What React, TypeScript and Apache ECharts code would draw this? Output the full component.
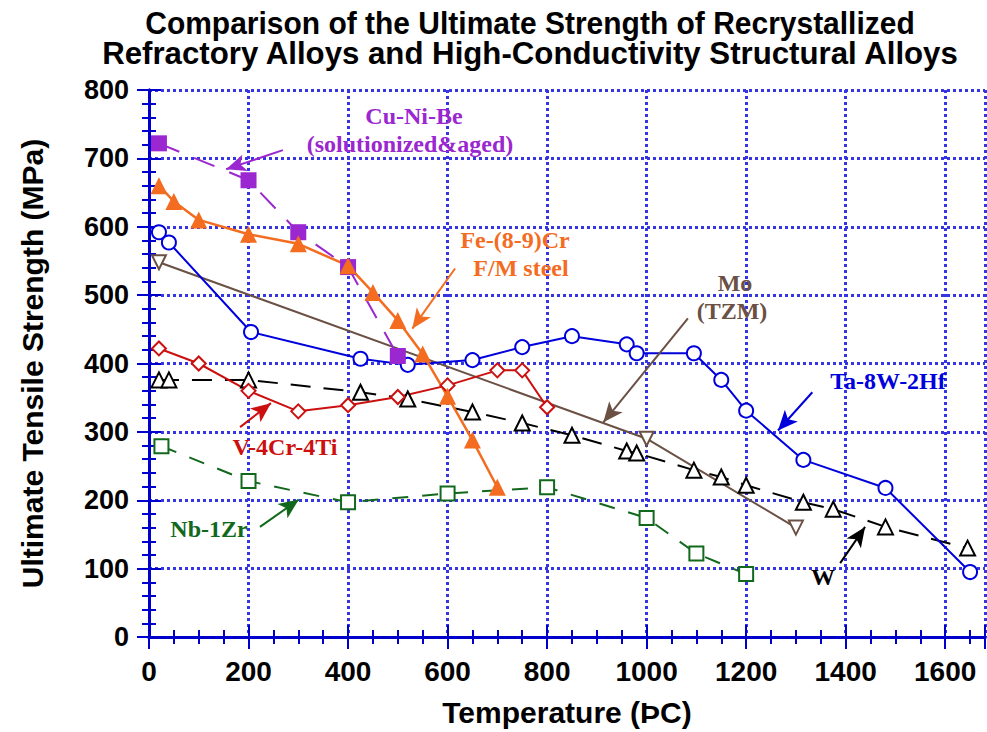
import React, { useEffect, useRef } from "react";
import * as echarts from "echarts";

const cuNiBe: number[][] = [[20, 722], [200, 668], [300, 592], [400, 541], [500, 411]];
const feCr: number[][] = [[20, 660], [50, 637], [100, 610], [200, 589], [300, 575], [400, 543], [450, 504], [500, 463], [550, 414], [600, 352], [650, 288], [700, 219]];
const ta8w: number[][] = [[20, 592], [40, 577], [205, 446], [425, 407], [520, 398], [650, 405], [750, 424], [850, 440], [960, 428], [980, 415], [1095, 415], [1150, 376], [1200, 331], [1315, 259], [1480, 218], [1650, 95]];
const moTzm: number[][] = [[20, 548], [1000, 290], [1300, 160]];
const v4cr: number[][] = [[20, 422], [100, 400], [200, 360], [300, 330], [400, 339], [500, 351], [600, 368], [700, 390], [750, 390], [800, 336]];
const wData: number[][] = [[20, 376], [40, 376], [200, 376], [425, 358], [520, 348], [650, 329], [750, 313], [850, 295], [960, 272], [980, 269], [1095, 244], [1150, 234], [1200, 222], [1315, 197], [1375, 187], [1480, 161], [1645, 130]];
const nb1zr: number[][] = [[25, 279], [200, 228], [400, 197], [600, 210], [800, 219], [1000, 174], [1100, 122], [1200, 92]];

// arrows: [startX, startY, endX, endY] in data units
const arrowCu = [269, 712, 155, 684];
const arrowFe = [615, 539, 529, 451];
const arrowMo = [1083, 466, 913, 314];
const arrowTa = [1333, 358, 1264, 302];
const arrowW = [1389, 108, 1439, 161];
const arrowV = [183, 307, 245, 342];
const arrowNb = [223, 161, 301, 201];

const titleLines = ["Comparison of the Ultimate Strength of Recrystallized", "Refractory Alloys and High-Conductivity Structural Alloys"];

const C_PURPLE = "#9a27cf";
const C_ORANGE = "#f36c1f";
const C_BROWN = "#6b5044";
const C_BLUE = "#0000dd";
const C_RED = "#cc1010";
const C_GREEN = "#12681c";
const C_BLACK = "#000000";
const AXIS_BLUE = "#0000cc";
const GRID_BLUE = "#3535e4";

function arrowLine(a: number[], color: string) {
  return {
    silent: true,
    symbol: ["none", "arrow"],
    symbolSize: [13, 20],
    label: { show: false },
    lineStyle: { color, width: 2, type: "solid" },
    data: [[{ coord: [a[0], a[1]] }, { coord: [a[2], a[3]] }]],
  };
}

export default function App() {
  const ref = useRef<HTMLDivElement>(null);
  useEffect(() => {
    if (!ref.current) return;
    const chart = echarts.init(ref.current, undefined, { renderer: "svg" });
    const serif = "'Liberation Serif', 'Times New Roman', serif";
    const sans = "'Liberation Sans', Arial, sans-serif";
    const lbl = (text: string, x: number, y: number, color: string) => ({
      type: "text",
      x,
      y,
      z: 100,
      style: {
        text, fill: color, fontFamily: serif, fontWeight: "bold", fontSize: 24,
        textAlign: "center", textVerticalAlign: "middle",
      },
    });
    const openItem = (color: string) => ({ color: "#ffffff", borderColor: color, borderWidth: 2 });
    const plain = (v: number) => String(v);
    const gridLine = { show: true, lineStyle: { color: GRID_BLUE, width: 3, type: "dotted" } };
    const option: any = {
      animation: false,
      backgroundColor: "#ffffff",
      grid: { left: 149, right: 2, top: 90, bottom: 79 },
      xAxis: [
        {
          type: "value", min: 0, max: 1680, interval: 200,
          name: "Temperature (ÞC)", nameLocation: "middle", nameGap: 60,
          nameTextStyle: { fontFamily: sans, fontWeight: "bold", fontSize: 30, color: "#000" },
          axisLine: { show: true, lineStyle: { color: AXIS_BLUE, width: 3 } },
          axisTick: { show: true, inside: true, length: 12, lineStyle: { color: AXIS_BLUE, width: 2 } },
          minorTick: { show: true, splitNumber: 4, length: 7, lineStyle: { color: AXIS_BLUE, width: 2 } },
          axisLabel: { fontFamily: sans, fontWeight: "bold", fontSize: 28, color: "#000", margin: 20, showMaxLabel: false, formatter: plain },
          splitLine: gridLine,
        },
        {
          type: "value", min: 0, max: 1680, interval: 200, position: "top",
          axisLine: { show: true, lineStyle: { color: AXIS_BLUE, width: 3 } },
          axisTick: { show: true, inside: true, length: 12, lineStyle: { color: AXIS_BLUE, width: 2 } },
          minorTick: { show: true, splitNumber: 4, length: 7, lineStyle: { color: AXIS_BLUE, width: 2 } },
          axisLabel: { show: false },
          splitLine: { show: false },
        },
      ],
      yAxis: [
        {
          type: "value", min: 0, max: 800, interval: 100,
          name: "Ultimate Tensile Strength (MPa)", nameLocation: "middle", nameGap: 102,
          nameTextStyle: { fontFamily: sans, fontWeight: "bold", fontSize: 30, color: "#000" },
          axisLine: { show: true, lineStyle: { color: AXIS_BLUE, width: 3 } },
          axisTick: { show: true, inside: true, length: 12, lineStyle: { color: AXIS_BLUE, width: 2 } },
          minorTick: { show: true, splitNumber: 5, length: 7, lineStyle: { color: AXIS_BLUE, width: 2 } },
          axisLabel: { fontFamily: sans, fontWeight: "bold", fontSize: 27, color: "#000", margin: 20, formatter: plain },
          splitLine: gridLine,
        },
        {
          type: "value", min: 0, max: 800, interval: 100, position: "right",
          axisLine: { show: true, lineStyle: { color: AXIS_BLUE, width: 3 } },
          axisTick: { show: true, inside: true, length: 12, lineStyle: { color: AXIS_BLUE, width: 2 } },
          minorTick: { show: true, splitNumber: 5, length: 7, lineStyle: { color: AXIS_BLUE, width: 2 } },
          axisLabel: { show: false },
          splitLine: { show: false },
        },
      ],
      series: [
        {
          name: "Mo (TZM)", type: "line", data: moTzm, symbol: "triangle", symbolRotate: 180, symbolSize: 14,
          lineStyle: { color: C_BROWN, width: 2 }, itemStyle: openItem(C_BROWN),
          markLine: arrowLine(arrowMo, C_BROWN),
        },
        {
          name: "Nb-1Zr", type: "line", data: nb1zr, symbol: "rect", symbolSize: 14,
          lineStyle: { color: C_GREEN, width: 2, type: [16, 14] }, itemStyle: openItem(C_GREEN),
          markLine: arrowLine(arrowNb, C_GREEN),
        },
        {
          name: "W", type: "line", data: wData, symbol: "triangle", symbolSize: 15,
          lineStyle: { color: C_BLACK, width: 2, type: [20, 13] }, itemStyle: openItem(C_BLACK),
          markLine: arrowLine(arrowW, C_BLACK),
        },
        {
          name: "V-4Cr-4Ti", type: "line", data: v4cr, symbol: "diamond", symbolSize: 14,
          lineStyle: { color: C_RED, width: 2 }, itemStyle: openItem(C_RED),
          markLine: arrowLine(arrowV, C_RED),
        },
        {
          name: "Ta-8W-2Hf", type: "line", data: ta8w, symbol: "circle", symbolSize: 14,
          lineStyle: { color: C_BLUE, width: 2 }, itemStyle: openItem(C_BLUE),
          markLine: arrowLine(arrowTa, C_BLUE),
        },
        {
          name: "Cu-Ni-Be", type: "line", data: cuNiBe, symbol: "rect", symbolSize: 16,
          lineStyle: { color: C_PURPLE, width: 2, type: [22, 16] }, itemStyle: { color: C_PURPLE },
          markLine: arrowLine(arrowCu, C_PURPLE),
        },
        {
          name: "Fe-(8-9)Cr", type: "line", data: feCr, symbol: "triangle", symbolSize: 17,
          lineStyle: { color: C_ORANGE, width: 2.5 }, itemStyle: { color: C_ORANGE },
          markLine: arrowLine(arrowFe, C_ORANGE),
        },
      ],
      graphic: [
        {
          type: "text", x: 530, y: 23, scaleX: 0.937,
          style: { text: titleLines[0], fill: "#000", font: `bold 32px ${sans}`, textAlign: "center", textVerticalAlign: "middle" },
        },
        {
          type: "text", x: 530, y: 53, scaleX: 0.975,
          style: { text: titleLines[1], fill: "#000", font: `bold 32px ${sans}`, textAlign: "center", textVerticalAlign: "middle" },
        },
        lbl("Cu-Ni-Be", 414, 116, C_PURPLE),
        lbl("(solutionized&aged)", 410, 144, C_PURPLE),
        lbl("Fe-(8-9)Cr", 515, 240, C_ORANGE),
        lbl("F/M steel", 521, 268, C_ORANGE),
        lbl("Mo", 735, 283, C_BROWN),
        lbl("(TZM)", 732, 311, C_BROWN),
        lbl("Ta-8W-2Hf", 888, 381, C_BLUE),
        lbl("V-4Cr-4Ti", 285, 447, C_RED),
        lbl("Nb-1Zr", 209, 529, C_GREEN),
        lbl("W", 823, 577, C_BLACK),
      ],
    };
    chart.setOption(option);
    return () => chart.dispose();
  }, []);
  return <div ref={ref} style={{ width: 987, height: 732, position: "absolute", left: 0, top: 0 }} />;
}
